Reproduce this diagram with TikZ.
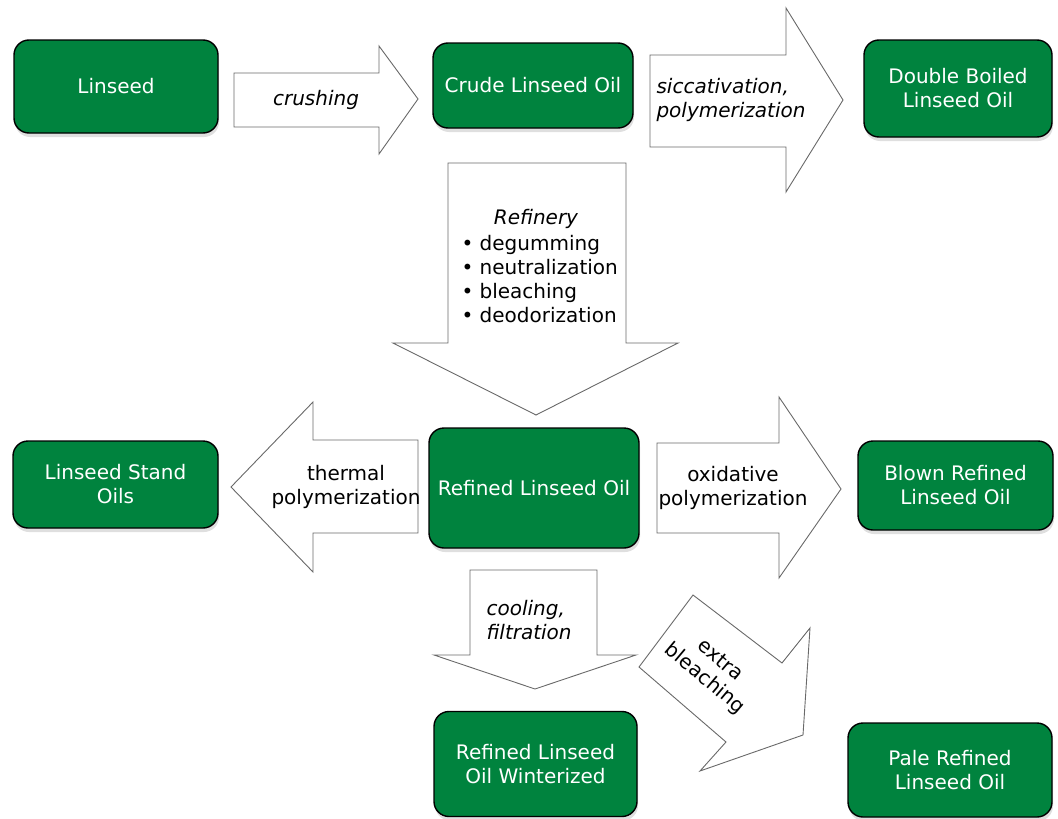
\documentclass[tikz,border=0pt]{standalone}
\usepackage{fontspec}
\setmainfont{DejaVu Sans}
\usetikzlibrary{shadows}

\definecolor{oil-green}{RGB}{0, 131, 62}
\definecolor{arrow-grey}{RGB}{105, 105, 105}

\begin{document}
\begin{tikzpicture}[
        x=1pt, y=-1pt,
        every node/.style={align=center, font=\fontsize{20}{24}\selectfont},
        product/.style={shape=rectangle, rounded corners=15pt, draw=black, line width=1.4pt,
            fill=oil-green, text=white,
            drop shadow={shadow xshift=1pt, shadow yshift=-4pt, opacity=0.25}},
        process/.style={draw=arrow-grey, line width=0.9pt, fill=white},
        proclabel/.style={font=\fontsize{20}{24}\selectfont\itshape},
    ]
    \useasboundingbox (0,0) rectangle (1058,819);

    \draw[process] (234,73) -- (379,73) -- (379,46) -- (418,99) -- (379,154) -- (379,127) -- (234,127) -- cycle;
    \draw[process] (650,55) -- (786,55) -- (786,8) -- (843,100) -- (786,192) -- (786,147) -- (650,147) -- cycle;
    \draw[process] (448,163) -- (626,163) -- (626,343) -- (678,343) -- (536,415) -- (393,343) -- (448,343) -- cycle;
    \draw[process] (418,440) -- (313,440) -- (313,402) -- (231,487) -- (313,572) -- (313,533) -- (418,533) -- cycle;
    \draw[process] (657,443) -- (779,443) -- (779,397) -- (841,489) -- (779,578) -- (779,533) -- (657,533) -- cycle;
    \draw[process] (470,570) -- (597,570) -- (597,655) -- (636,655) -- (535,689) -- (434,655) -- (470,655) -- cycle;
    \draw[process] (639,667) -- (693,595) -- (782,663) -- (810,628) -- (803,735) -- (700,771) -- (726,742) -- cycle;

    \node[proclabel] (crushing) at (316,100) {crushing};
    \node[proclabel, align=left] (siccat) at (731,100) {siccativation,\\polymerization};
    \node[proclabel] (refinery) at (536,219) {Refinery};
    \node[align=left, anchor=west] (reflist) at (458,279) {• degumming\\• neutralization\\• bleaching\\• deodorization};
    \node (thermal) at (346,487) {thermal\\polymerization};
    \node (oxid) at (733,488) {oxidative\\polymerization};
    \node[proclabel, align=left, anchor=west] (cooling) at (483,620) {cooling,\\filtration};
    \node[rotate=-40] (extra) at (712,670) {extra\\bleaching};

    \node[product, minimum width=204, minimum height=93] (linseed) at (116,86.5) {Linseed};
    \node[product, minimum width=200, minimum height=85] (crude) at (533,85.5) {Crude Linseed Oil};
    \node[product, minimum width=188, minimum height=97] (dboiled) at (958,88.5) {Double Boiled\\Linseed Oil};
    \node[product, minimum width=205, minimum height=87] (standoil) at (115.5,484.5) {Linseed Stand\\Oils};
    \node[product, minimum width=210, minimum height=120] (refined) at (534,488) {Refined Linseed Oil};
    \node[product, minimum width=195, minimum height=89] (blown) at (955.5,485.5) {Blown Refined\\Linseed Oil};
    \node[product, minimum width=203, minimum height=105] (winter) at (535.5,764) {Refined Linseed\\Oil Winterized};
    \node[product, minimum width=204, minimum height=94] (pale) at (950,770) {Pale Refined\\Linseed Oil};
\end{tikzpicture}
\end{document}
